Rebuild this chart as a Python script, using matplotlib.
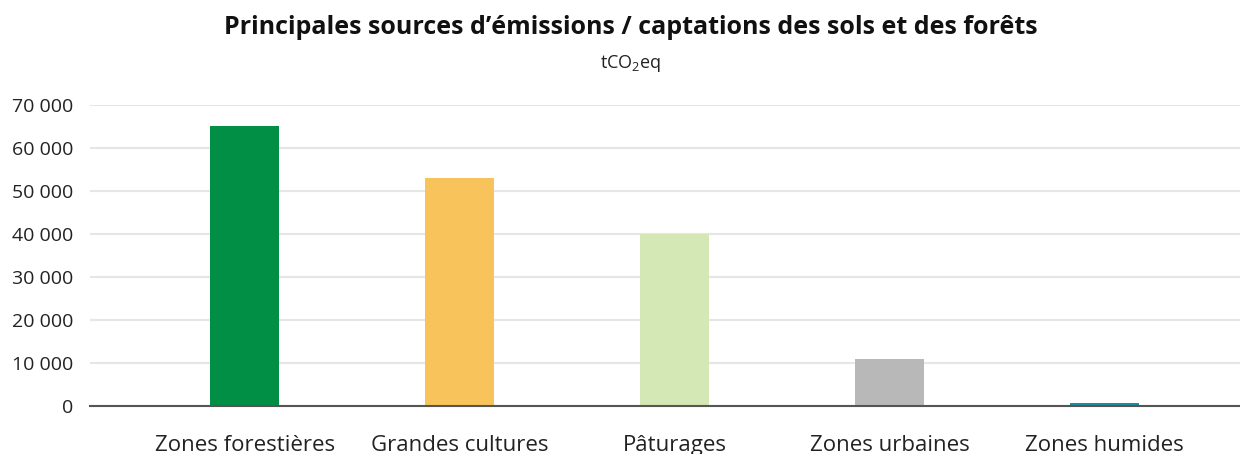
import matplotlib
matplotlib.use('Agg')
import matplotlib.pyplot as plt
from matplotlib.ticker import FuncFormatter

plt.rcParams['font.family'] = ['Open Sans', 'DejaVu Sans']
plt.rcParams['mathtext.fontset'] = 'custom'
plt.rcParams['mathtext.rm'] = 'Open Sans'

categories = ['Zones forestières', 'Grandes cultures', 'Pâturages', 'Zones urbaines', 'Zones humides']
values     = [65000, 53000, 40000, 11000, 800]
colors     = ['#008f45', '#f7c35a', '#d3e8b5', '#b8b8b8', '#1a8fa0']
y_ticks    = [0, 10000, 20000, 30000, 40000, 50000, 60000, 70000]

W, H = 1240, 454
fig = plt.figure(figsize=(W / 100, H / 100), dpi=100)
ax = fig.add_axes([90 / W, 48 / H, 1 - 90 / W, (406 - 105) / H])

x = range(len(categories))
ax.bar(x, values, width=0.32, color=colors, zorder=3)

ax.set_xlim(-0.719, 4.63)
ax.set_ylim(0, 70000)
ax.set_yticks(y_ticks)
ax.yaxis.set_major_formatter(FuncFormatter(lambda v, p: f"{int(v):,}".replace(',', ' ')))
ax.grid(axis='y', color='#e6e6e6', linewidth=1.5, zorder=0)
ax.set_xticks(list(x))
ax.set_xticklabels(categories, fontsize=16, color='#222222')

for s in ['top', 'right', 'left']:
    ax.spines[s].set_visible(False)
ax.spines['bottom'].set_color('#555555')
ax.spines['bottom'].set_linewidth(1.5)
ax.spines['bottom'].set_zorder(4)
ax.tick_params(axis='y', length=0, pad=12, labelsize=14, labelcolor='#222222')
ax.tick_params(axis='x', length=0, pad=21)

fig.text(631 / W, 1 - 27 / H, "Principales sources d’émissions / captations des sols et des forêts",
         ha='center', va='center', fontsize=18, fontweight='bold', color='#111111')
fig.text(631 / W, 1 - 63 / H, r"tCO$_\mathregular{2}$eq", ha='center', va='center',
         fontsize=13, color='#222222')

fig.savefig('out.png', dpi=100)
